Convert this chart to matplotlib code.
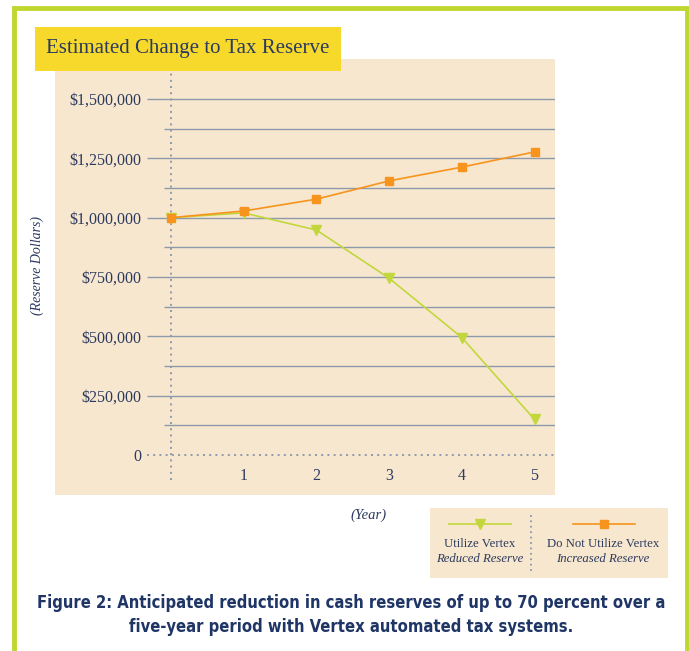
import matplotlib
matplotlib.use("Agg")
import matplotlib.pyplot as plt
from matplotlib.patches import Rectangle
from matplotlib.lines import Line2D

# ---- data ----
years = [0, 1, 2, 3, 4, 5]
year_labels = ["", "1", "2", "3", "4", "5"]
utilize = [1000000, 1020000, 948000, 745000, 495000, 150000]
not_utilize = [1000000, 1028000, 1078000, 1155000, 1213000, 1277000]
major_ticks = [0, 250000, 500000, 750000, 1000000, 1250000, 1500000]
major_labels = ["0", "$250,000", "$500,000", "$750,000", "$1,000,000", "$1,250,000", "$1,500,000"]
minor_ticks = [125000, 375000, 625000, 875000, 1125000, 1375000]

W, H = 689, 651
NAVY = "#2b3a5e"
GREEN = "#c2d73c"
ORANGE = "#f7941d"
BEIGE = "#f8e7cf"
GRID = "#8d9aab"
SERIF = ["Liberation Serif", "DejaVu Serif"]

fig = plt.figure(figsize=(W / 100, H / 100), dpi=100)
fig.patch.set_facecolor("white")


def fx(x):
    return x / W


def fy(y):
    return 1 - y / H


# green frame
fig.add_artist(Line2D([fx(14), fx(14), fx(687), fx(687)], [fy(H + 5), fy(7.5), fy(7.5), fy(H + 5)],
                      color="#bfd730", lw=3.5, solid_joinstyle="miter", transform=fig.transFigure))

# main axes = beige panel (pixel box 55..555, 59..495)
L, R, T, B = 55, 555, 59, 495
ax = fig.add_axes([fx(L), fy(B), (R - L) / W, (B - T) / H])
ax.set_facecolor(BEIGE)
for s in ax.spines.values():
    s.set_visible(False)

x0px, xstep = 171.0, 72.7
y0px, ystep = 455.0, 356.0 / 1500000
ax.set_xlim((L - x0px) / xstep, (R - x0px) / xstep)
ax.set_ylim((y0px - B) / ystep, (y0px - T) / ystep)

xlab_start = (147 - x0px) / xstep
xmin_start = (164 - x0px) / xstep
xend = (556 - x0px) / xstep

for v in major_ticks[1:]:
    ax.hlines(v, xlab_start, xend, color=GRID, lw=1.0, zorder=1)
for v in minor_ticks:
    ax.hlines(v, xmin_start, xend, color=GRID, lw=1.0, zorder=1)
ax.hlines(0, xlab_start, xend, color=GRID, lw=1.4, linestyles=(0, (1, 2.2)), zorder=1)
ax.vlines(0, (y0px - 480) / ystep, (y0px - 72) / ystep, color=GRID, lw=1.4,
          linestyles=(0, (1, 2.2)), zorder=1)

ax.plot(years, utilize, color=GREEN, lw=1.2, marker="v", ms=7, mfc=GREEN, mec=GREEN, zorder=3)
ax.plot(years, not_utilize, color=ORANGE, lw=1.2, marker="s", ms=6, mfc=ORANGE, mec=ORANGE, zorder=3)

ax.set_yticks(major_ticks)
ax.set_yticklabels(major_labels)
ax.set_xticks(years)
ax.set_xticklabels(year_labels)
ax.tick_params(axis="y", length=0, pad=-(141 - L) * 0.72, labelsize=11.5, labelcolor=NAVY)
ax.tick_params(axis="x", length=0, pad=-(B - 468) * 0.72, labelsize=11.5, labelcolor=NAVY)
for lab in ax.get_xticklabels() + ax.get_yticklabels():
    lab.set_family(SERIF)

# title box
fig.add_artist(Rectangle((fx(35), fy(71)), 306 / W, 44 / H, facecolor="#f7d92c", edgecolor="none",
                         transform=fig.transFigure, zorder=5))
fig.text(fx(46), fy(49), "Estimated Change to Tax Reserve", family=SERIF, fontsize=15,
         color=NAVY, ha="left", va="center", zorder=6)

# axis labels
fig.text(fx(37), fy(265), "(Reserve Dollars)", family=SERIF, style="italic", fontsize=10,
         color=NAVY, rotation=90, ha="center", va="center")
fig.text(fx(369), fy(515), "(Year)", family=SERIF, style="italic", fontsize=10.5,
         color=NAVY, ha="center", va="center")

# legend box
fig.add_artist(Rectangle((fx(430), fy(578)), 238 / W, 70 / H, facecolor=BEIGE, edgecolor="none",
                         transform=fig.transFigure, zorder=1))
fig.add_artist(Line2D([fx(531), fx(531)], [fy(515), fy(572)], color=GRID, lw=1.3,
                      linestyle=(0, (1, 2)), transform=fig.transFigure))
fig.add_artist(Line2D([fx(449), fx(511)], [fy(524), fy(524)], color=GREEN, lw=1.2,
                      transform=fig.transFigure))
fig.add_artist(Line2D([fx(480)], [fy(524)], color=GREEN, marker="v", ms=7, lw=0,
                      transform=fig.transFigure))
fig.add_artist(Line2D([fx(573), fx(635)], [fy(524), fy(524)], color=ORANGE, lw=1.2,
                      transform=fig.transFigure))
fig.add_artist(Line2D([fx(604)], [fy(524)], color=ORANGE, marker="s", ms=6, lw=0,
                      transform=fig.transFigure))
fig.text(fx(480), fy(544), "Utilize Vertex", family=SERIF, fontsize=9.2, color=NAVY,
         ha="center", va="center")
fig.text(fx(480), fy(559), "Reduced Reserve", family=SERIF, style="italic", fontsize=9.2,
         color=NAVY, ha="center", va="center")
fig.text(fx(603), fy(544), "Do Not Utilize Vertex", family=SERIF, fontsize=9.2, color=NAVY,
         ha="center", va="center")
fig.text(fx(603), fy(559), "Increased Reserve", family=SERIF, style="italic", fontsize=9.2,
         color=NAVY, ha="center", va="center")

# caption
CAP = ["DejaVu Sans"]
for txt, ypx in [("Figure 2: Anticipated reduction in cash reserves of up to 70 percent over a", 603),
                 ("five-year period with Vertex automated tax systems.", 627)]:
    fig.text(fx(351), fy(ypx), txt, family=CAP, weight="bold", stretch="condensed",
             fontsize=11.9, color="#1f3566", ha="center", va="center")

fig.savefig("out.png", dpi=100, facecolor="white")
